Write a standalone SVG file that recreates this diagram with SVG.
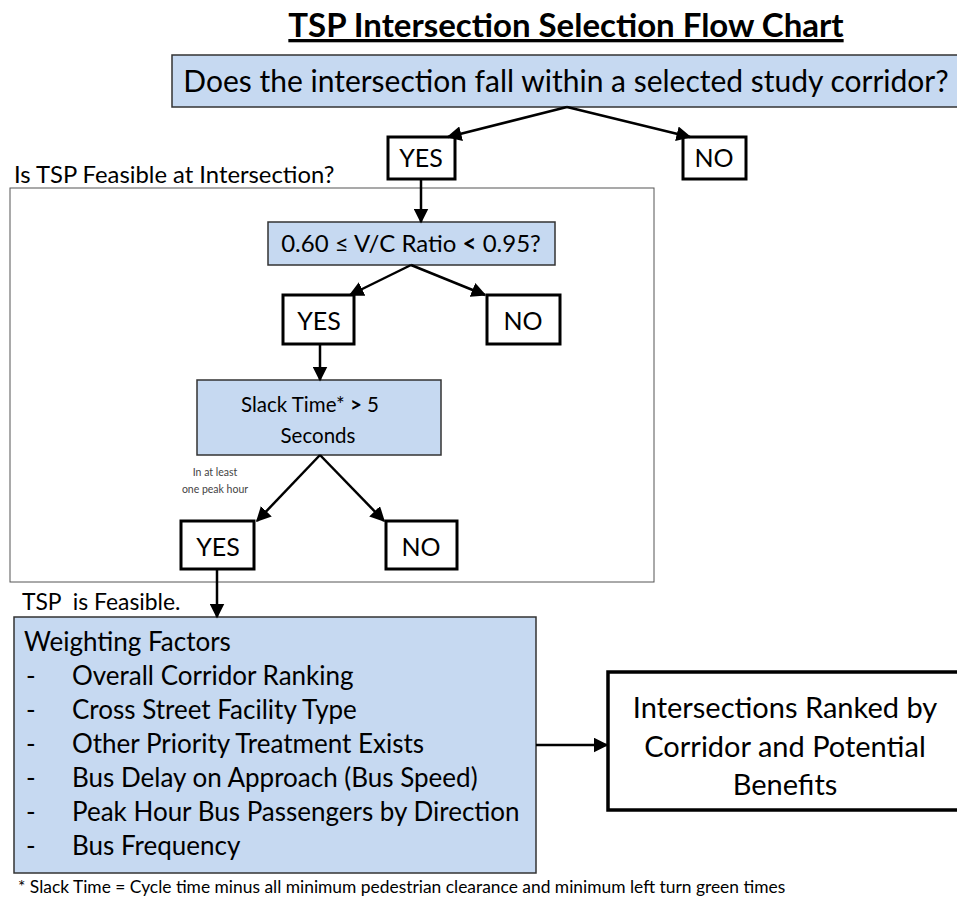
<svg xmlns="http://www.w3.org/2000/svg" width="957" height="905" viewBox="0 0 957 905">
<style>
text{font-family:Lato,"Open Sans","Liberation Sans",sans-serif;fill:#000}
.blue{fill:#c6d9f1;stroke:#333;stroke-width:1.5}
.ans{fill:#fff;stroke:#000;stroke-width:3}
.c{stroke:#000;stroke-width:2.5;fill:none}
.yn{font-size:25px;text-anchor:middle}
.note{fill:#444}
</style>
<defs>
<marker id="ah" viewBox="0 0 10 10" refX="9" refY="5" markerWidth="6" markerHeight="6" markerUnits="strokeWidth" orient="auto">
<path d="M0,0 L10,5 L0,10 z" fill="#000"/>
</marker>
</defs>
<text x="566" y="37" font-size="33" font-weight="bold" text-anchor="middle" text-decoration="underline">TSP Intersection Selection Flow Chart</text>
<g id="frame">
<rect x="10" y="188" width="644" height="394" fill="none" stroke="#555" stroke-width="1"/>
<text x="14" y="183" font-size="23.8">Is TSP Feasible at Intersection?</text>
</g>
<g id="q1"><rect class="blue" x="172" y="55" width="790" height="52"/>
<text x="566" y="92" font-size="30" text-anchor="middle">Does the intersection fall within a selected study corridor?</text></g>
<g id="yes1"><rect class="ans" x="388" y="137" width="67" height="42"/><text class="yn" x="421" y="167">YES</text></g>
<g id="no1"><rect class="ans" x="683" y="137" width="63" height="42"/><text class="yn" x="714" y="167">NO</text></g>
<g id="q2"><rect class="blue" x="268" y="222" width="287" height="43"/>
<text x="411" y="252" font-size="24" text-anchor="middle">0.60 ≤ V/C Ratio <tspan font-weight="bold">&lt;</tspan> 0.95?</text></g>
<g id="yes2"><rect class="ans" x="283" y="295" width="71" height="49"/><text class="yn" x="319" y="330" font-size="28">YES</text></g>
<g id="no2"><rect class="ans" x="487" y="295" width="73" height="49"/><text class="yn" x="523" y="330" font-size="28">NO</text></g>
<g id="q3"><rect class="blue" x="197" y="380" width="244" height="75"/>
<text x="310" y="412" font-size="20.5" text-anchor="middle">Slack Time* <tspan font-weight="bold">&gt;</tspan> 5</text>
<text x="318" y="443" font-size="20.5" text-anchor="middle">Seconds</text></g>
<g id="lbl"><text class="note" x="215" y="476" font-size="10.5" text-anchor="middle">In at least</text>
<text class="note" x="215" y="493" font-size="10.5" text-anchor="middle">one peak hour</text></g>
<g id="yes3"><rect class="ans" x="181" y="521" width="73" height="48"/><text class="yn" x="218" y="556" font-size="28">YES</text></g>
<g id="no3"><rect class="ans" x="386" y="521" width="71" height="48"/><text class="yn" x="421" y="556" font-size="28">NO</text></g>
<text x="22" y="610" font-size="22.9" xml:space="preserve">TSP  is Feasible.</text>
<g id="wf"><rect class="blue" x="14" y="617" width="522" height="256"/>
<g font-size="26">
<text x="24" y="651">Weighting Factors</text>
<text x="26" y="685">-</text><text x="72" y="685">Overall Corridor Ranking</text>
<text x="26" y="719">-</text><text x="72" y="719">Cross Street Facility Type</text>
<text x="26" y="753">-</text><text x="72" y="753">Other Priority Treatment Exists</text>
<text x="26" y="787">-</text><text x="72" y="787">Bus Delay on Approach (Bus Speed)</text>
<text x="26" y="821">-</text><text x="72" y="821">Peak Hour Bus Passengers by Direction</text>
<text x="26" y="855">-</text><text x="72" y="855">Bus Frequency</text>
</g></g>
<g id="result"><rect x="608" y="672" width="360" height="138" fill="#fff" stroke="#000" stroke-width="3.5"/>
<g font-size="29" text-anchor="middle">
<text x="785" y="718">Intersections Ranked by</text>
<text x="785" y="757">Corridor and Potential</text>
<text x="785" y="795">Benefits</text>
</g></g>
<text x="18" y="893" font-size="17.4">* Slack Time = Cycle time minus all minimum pedestrian clearance and minimum left turn green times</text>
<g id="connectors">
<line class="c" x1="567" y1="107" x2="448" y2="137" marker-end="url(#ah)"/>
<line class="c" x1="567" y1="107" x2="690" y2="137" marker-end="url(#ah)"/>
<line class="c" x1="421" y1="179" x2="421" y2="222" marker-end="url(#ah)"/>
<line class="c" x1="411" y1="265" x2="350" y2="295" marker-end="url(#ah)"/>
<line class="c" x1="411" y1="265" x2="485" y2="295" marker-end="url(#ah)"/>
<line class="c" x1="320" y1="344" x2="320" y2="380" marker-end="url(#ah)"/>
<line class="c" x1="320" y1="455" x2="257" y2="521" marker-end="url(#ah)"/>
<line class="c" x1="320" y1="455" x2="384" y2="521" marker-end="url(#ah)"/>
<line class="c" x1="217" y1="569" x2="217" y2="617" marker-end="url(#ah)"/>
<line class="c" x1="536" y1="745" x2="607" y2="745" marker-end="url(#ah)"/>
</g>
</svg>
